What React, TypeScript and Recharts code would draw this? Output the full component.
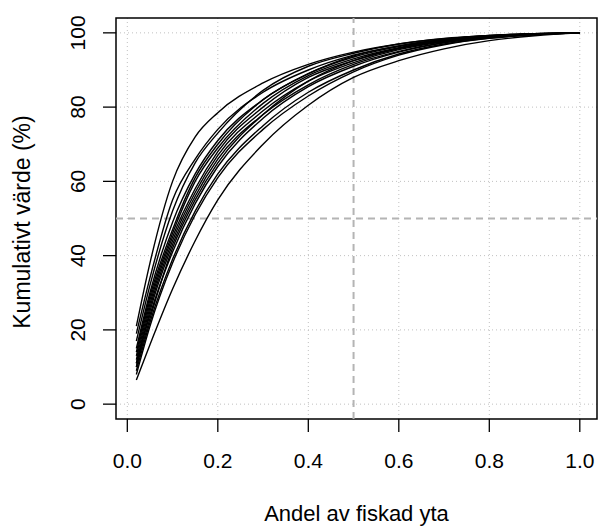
import { CartesianGrid, Line, LineChart, ReferenceArea, ReferenceLine, XAxis, YAxis } from "recharts";

const andel = [0.02, 0.05, 0.1, 0.15, 0.2, 0.3, 0.4, 0.5, 0.6, 0.7, 0.8, 0.9, 1.0];

// kumulativt värde (%) per kurva
const kurvor: number[][] = [
  [21, 38, 60, 72, 78.5, 86.5, 91.5, 94.8, 97, 98.4, 99.3, 99.8, 100],
  [19, 34, 55, 66, 74, 84, 90, 94, 96.5, 98.2, 99.2, 99.8, 100],
  [17, 32, 52, 65, 73, 84.5, 91, 94.5, 97, 98.5, 99.3, 99.8, 100],
  [15, 30, 49, 62, 71, 82, 89, 93.5, 96.3, 98, 99.1, 99.7, 100],
  [14, 29, 47, 61, 70, 82, 89, 93.8, 96.5, 98.2, 99.2, 99.7, 100],
  [13, 28, 46, 60, 69, 81, 88.5, 93, 96, 98, 99, 99.7, 100],
  [12, 27, 45, 58, 68, 80, 88, 92.5, 95.8, 97.8, 99, 99.7, 100],
  [11, 26, 44, 57, 67, 79, 87, 92, 95.5, 97.6, 98.9, 99.6, 100],
  [10, 25, 43, 56, 66, 78, 86, 91.5, 95, 97.4, 98.8, 99.6, 100],
  [11, 24, 41, 54, 64, 77, 85.5, 91, 94.8, 97.3, 98.7, 99.6, 100],
  [9, 22, 39, 52, 62, 75, 84, 90, 94.3, 97, 98.6, 99.5, 100],
  [8, 21, 38, 51, 61, 74, 83, 89.5, 94, 96.8, 98.5, 99.5, 100],
  [10, 23, 42, 55, 65, 78, 87, 92.5, 95.8, 97.8, 99, 99.7, 100],
  [6.5, 16, 31, 44, 55, 70, 80.5, 88, 92.5, 95.7, 97.9, 99.2, 100],
];

const xTicks = [0, 0.2, 0.4, 0.6, 0.8, 1.0];
const yTicks = [0, 20, 40, 60, 80, 100];

const data = andel.map((a, i) => {
  const row: Record<string, number> = { andel: a };
  kurvor.forEach((k, j) => {
    row["k" + j] = k[i];
  });
  return row;
});

const font = "'Liberation Sans', Arial, sans-serif";

function XTick({ x, y, payload }: any) {
  return (
    <text x={x} y={y} dy={36} textAnchor="middle" fontSize={21} fontFamily={font} fill="#000">
      {payload.value.toFixed(1)}
    </text>
  );
}

function YTick({ y, payload }: any) {
  return (
    <text
      x={85}
      y={y}
      transform={`rotate(-90, 85, ${y})`}
      textAnchor="middle"
      fontSize={21}
      fontFamily={font}
      fill="#000"
    >
      {payload.value}
    </text>
  );
}

export default function App() {
  return (
    <div style={{ width: 598, height: 527, background: "#fff", position: "relative" }}>
      <style>{"body{margin:0}"}</style>
      <LineChart width={598} height={527} data={data} margin={{ top: 18, right: 1, left: 0, bottom: 0 }}>
        <CartesianGrid
          strokeDasharray="1 3"
          stroke="#c0c0c0"
          horizontalValues={yTicks}
          verticalValues={xTicks}
        />
        <XAxis
          dataKey="andel"
          type="number"
          domain={[-0.025, 1.038]}
          ticks={xTicks}
          height={108}
          tickSize={13}
          tickMargin={0}
          tickLine={{ stroke: "#000", strokeWidth: 1.3 }}
          axisLine={false}
          tick={<XTick />}
          allowDataOverflow
        />
        <YAxis
          type="number"
          domain={[-4, 104]}
          ticks={yTicks}
          width={116}
          tickSize={13}
          tickMargin={0}
          tickLine={{ stroke: "#000", strokeWidth: 1.3 }}
          axisLine={false}
          tick={<YTick />}
          allowDataOverflow
        />
        <ReferenceLine x={0.5} stroke="#b4b4b4" strokeWidth={2} strokeDasharray="7 5" />
        <ReferenceLine y={50} stroke="#b4b4b4" strokeWidth={2} strokeDasharray="7 5" />
        {kurvor.map((_, j) => (
          <Line
            key={j}
            type="monotone"
            dataKey={"k" + j}
            stroke="#000"
            strokeWidth={1.4}
            dot={false}
            isAnimationActive={false}
          />
        ))}
        <ReferenceArea x1={-0.025} x2={1.038} y1={-4} y2={104} fill="none" stroke="#000" strokeWidth={1.5} />
      </LineChart>
      <div
        style={{
          position: "absolute",
          left: 116,
          width: 481,
          top: 501,
          textAlign: "center",
          fontSize: 22,
          fontFamily: font,
          color: "#000",
          lineHeight: "26px",
        }}
      >
        Andel av fiskad yta
      </div>
      <div
        style={{
          position: "absolute",
          left: 22,
          top: 222,
          transform: "translate(-50%, -50%) rotate(-90deg)",
          fontSize: 23,
          fontFamily: font,
          color: "#000",
          whiteSpace: "nowrap",
          lineHeight: "26px",
        }}
      >
        Kumulativt värde (%)
      </div>
    </div>
  );
}
